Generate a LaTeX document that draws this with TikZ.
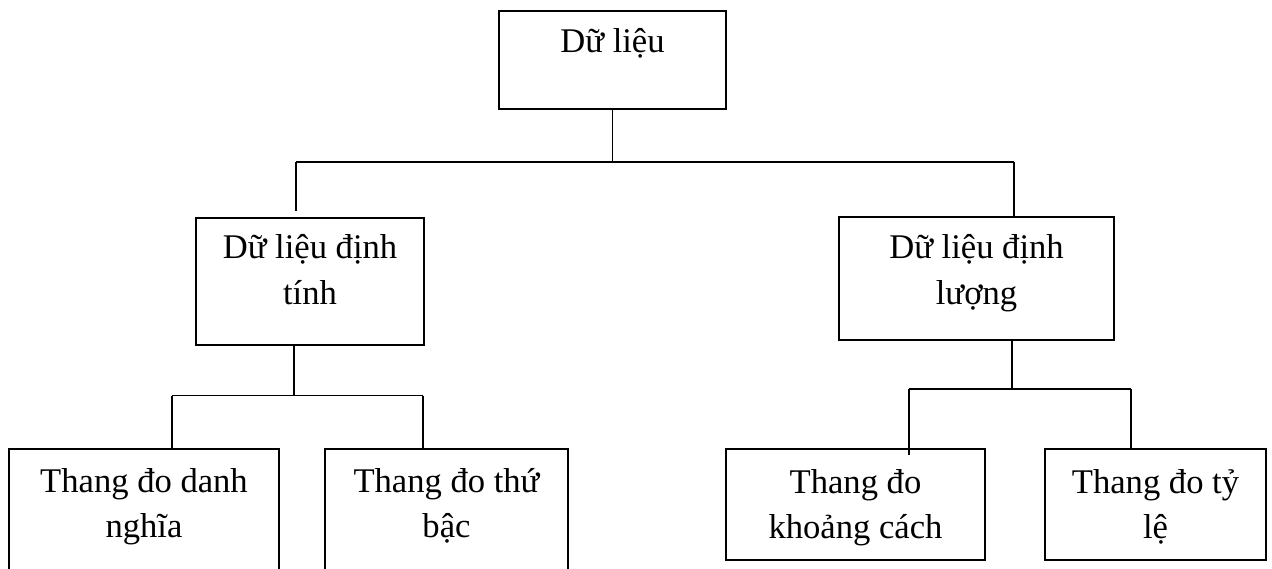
\documentclass[tikz,border=0pt]{standalone}
\usepackage{fontspec}
\setmainfont{Liberation Serif}
\newcommand\twoline[2]{\begin{tabular}[t]{@{}c@{}}#1\\#2\end{tabular}}
\begin{document}
\begin{tikzpicture}[x=1pt,y=-1pt,
  box/.style={draw, line width=1.9pt, inner sep=0pt},
  txt/.style={anchor=base, inner sep=0pt, font=\fontsize{34.6}{45.5}\selectfont},
  wire/.style={line width=1.9pt}]
\useasboundingbox (0,0) rectangle (1272,569);
\clip (0,0) rectangle (1272,569);
% boxes
\node[box, minimum width=227pt, minimum height=98pt] (top) at (612.5,60) {};
\node[box, minimum width=228pt, minimum height=127pt] (L) at (310,281.5) {};
\node[box, minimum width=275pt, minimum height=123pt] (R) at (976.5,278.5) {};
\node[box, minimum width=270pt, minimum height=160pt] (B1) at (144,529) {};
\node[box, minimum width=243pt, minimum height=160pt] (B2) at (446.5,529) {};
\node[box, minimum width=259pt, minimum height=111pt] (B3) at (855.5,504.5) {};
\node[box, minimum width=221pt, minimum height=111pt] (B4) at (1155.5,504.5) {};
% texts
\node[txt] (tTop) at (612.5,53) {Dữ liệu};
\node[txt] (tL) at (310,259) {\twoline{Dữ liệu định}{tính}};
\node[txt] (tR) at (976.5,259) {\twoline{Dữ liệu định}{lượng}};
\node[txt] (tB1) at (144,492) {\twoline{Thang đo danh}{nghĩa}};
\node[txt] (tB2) at (446.5,492) {\twoline{Thang đo thứ}{bậc}};
\node[txt] (tB3) at (855.5,493) {\twoline{Thang đo}{khoảng cách}};
\node[txt] (tB4) at (1155.5,493) {\twoline{Thang đo tỷ}{lệ}};
% junction coordinates
\coordinate (busTL) at (296,162);
\coordinate (busTR) at (1014,162);
\coordinate (dL) at (294,395.5);
\coordinate (busBL1) at (172,395.5);
\coordinate (busBL2) at (423,395.5);
\coordinate (dR) at (1012,389);
\coordinate (busBR1) at (909,389);
\coordinate (busBR2) at (1131,389);
% connectors
\draw[wire] (top.south) -- (top.south |- busTL);
\draw[wire] (busTL) -- (busTR);
\draw[wire] (busTL) -- ([yshift=6pt]busTL |- L.north);
\draw[wire] (busTR) -- (busTR |- R.north);
\draw[wire] (dL |- L.south) -- (dL);
\draw[wire] (busBL1) -- (busBL2);
\draw[wire] (busBL1) -- (busBL1 |- B1.north);
\draw[wire] (busBL2) -- (busBL2 |- B2.north);
\draw[wire] (dR |- R.south) -- (dR);
\draw[wire] (busBR1) -- (busBR2);
\draw[wire] (busBR1) -- ([yshift=-7pt]busBR1 |- B3.north);
\draw[wire] (busBR2) -- (busBR2 |- B4.north);
\end{tikzpicture}
\end{document}
